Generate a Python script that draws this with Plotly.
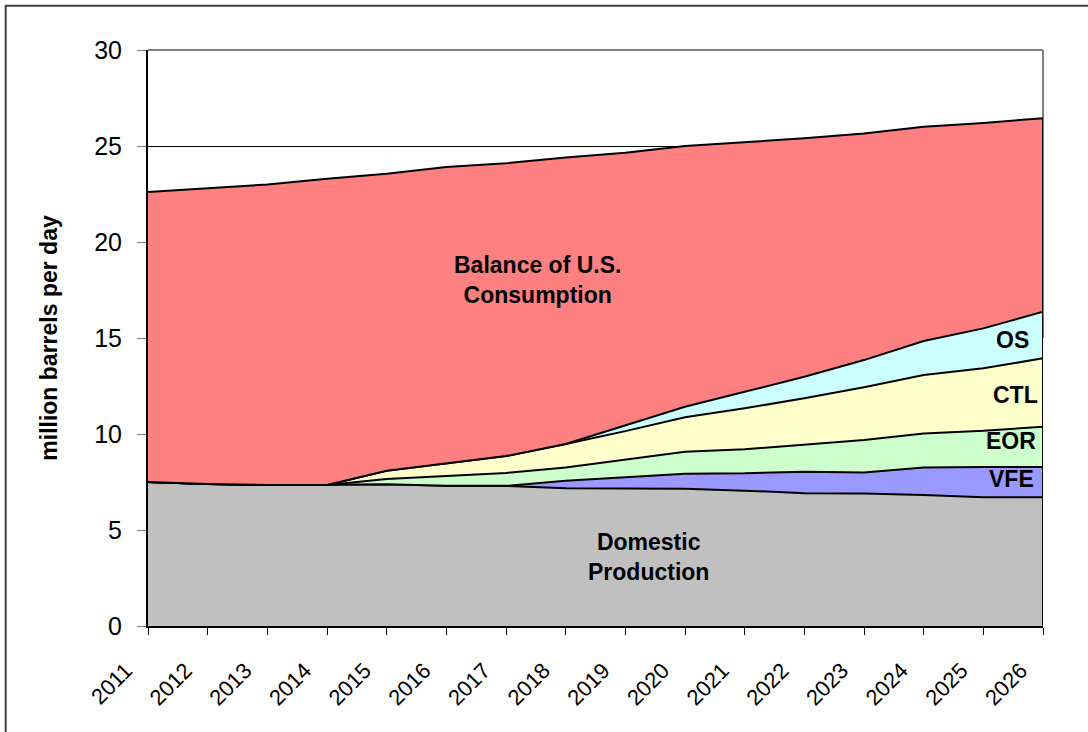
import plotly.graph_objects as go

# years on the x axis
years = list(range(2011, 2027))

# stacked layers, million barrels per day
domestic = [7.5, 7.4, 7.35, 7.35, 7.38, 7.31, 7.3, 7.17, 7.15, 7.15, 7.05, 6.92, 6.9, 6.82, 6.7, 6.7]
vfe = [0, 0, 0, 0, 0, 0, 0, 0.40, 0.59, 0.78, 0.9, 1.12, 1.1, 1.44, 1.58, 1.58]
eor = [0, 0, 0, 0, 0.28, 0.5, 0.67, 0.68, 0.91, 1.15, 1.25, 1.42, 1.69, 1.77, 1.89, 2.1]
ctl = [0, 0, 0, 0, 0.43, 0.66, 0.88, 1.23, 1.5, 1.79, 2.14, 2.4, 2.74, 3.04, 3.25, 3.56]
oil_shale = [0, 0, 0, 0, 0, 0, 0, 0, 0.28, 0.55, 0.86, 1.12, 1.42, 1.77, 2.08, 2.43]
balance = [15.1, 15.4, 15.65, 15.95, 15.46, 15.43, 15.25, 14.92, 14.22, 13.58, 13.0, 12.42, 11.8, 11.16, 10.7, 10.08]

layers = [
    ("Domestic Production", domestic, "#C0C0C0"),
    ("VFE", vfe, "#9999FF"),
    ("EOR", eor, "#CCFFCC"),
    ("CTL", ctl, "#FFFFCC"),
    ("OS", oil_shale, "#CCFFFF"),
    ("Balance of U.S. Consumption", balance, "#FF8080"),
]

FONT = "Liberation Sans, Arial, sans-serif"

fig = go.Figure()
for name, vals, col in layers:
    fig.add_trace(go.Scatter(
        x=years, y=vals, name=name, stackgroup="one", mode="lines",
        fillcolor=col, line=dict(color="black", width=2), hoverinfo="skip"))

# closing edge of the stack at the right end
total_end = sum(v[-1] for _, v, _ in layers)
fig.add_trace(go.Scatter(x=[years[-1], years[-1]], y=[0, total_end], mode="lines",
                         line=dict(color="black", width=2), hoverinfo="skip"))

fig.update_layout(
    width=1088, height=732,
    margin=dict(l=148, r=45, t=50, b=106),
    paper_bgcolor="white", plot_bgcolor="white",
    showlegend=False,
    font=dict(family=FONT, color="black"),
)
fig.update_xaxes(
    range=[2011, 2026], tickmode="array", tickvals=years, ticktext=[str(y) for y in years],
    tickangle=-45, tickfont=dict(size=22), showgrid=False,
    showline=True, linecolor="black", linewidth=2,
    ticks="outside", ticklen=7, tickcolor="black", tickwidth=1,
    ticklabelshift=-22, ticklabelstandoff=14,
)
fig.update_yaxes(
    range=[0, 30], dtick=5, tickfont=dict(size=25),
    showgrid=True, gridcolor="black", gridwidth=1, zeroline=False,
    showline=True, linecolor="black", linewidth=2,
    ticks="outside", ticklen=9, tickcolor="#808080", tickwidth=1,
    ticklabelstandoff=10,
    title=dict(text="<b>million barrels per day</b>", font=dict(size=23), standoff=30),
)

# gray top and right border of the plot area
fig.add_shape(type="line", xref="paper", yref="paper", x0=0, x1=1, y0=1, y1=1,
              line=dict(color="#808080", width=2))
fig.add_shape(type="line", xref="paper", yref="paper", x0=1, x1=1, y0=0.5, y1=1,
              line=dict(color="#808080", width=2), layer="below")
# outer frame of the chart
fig.add_shape(type="rect", xref="paper", yref="paper", x0=-0.159, x1=1.07, y0=-0.25, y1=1.077,
              line=dict(color="#404040", width=2))

labels = [
    ("<b>Balance of U.S.<br>Consumption</b>", 2017.52, 18.0, "center"),
    ("<b>Domestic<br>Production</b>", 2019.38, 3.6, "center"),
    ("<b>OS</b>", 2025.8, 14.9, "right"),
    ("<b>CTL</b>", 2025.95, 12.03, "right"),
    ("<b>EOR</b>", 2025.92, 9.64, "right"),
    ("<b>VFE</b>", 2025.88, 7.68, "right"),
]
for txt, x, y, anchor in labels:
    fig.add_annotation(x=x, y=y, text=txt, showarrow=False, xanchor=anchor,
                       font=dict(size=23, family=FONT, color="black"), align="center")

fig.write_html("out.html", config={"displayModeBar": False},
               post_script="document.body.style.margin='0px';")
